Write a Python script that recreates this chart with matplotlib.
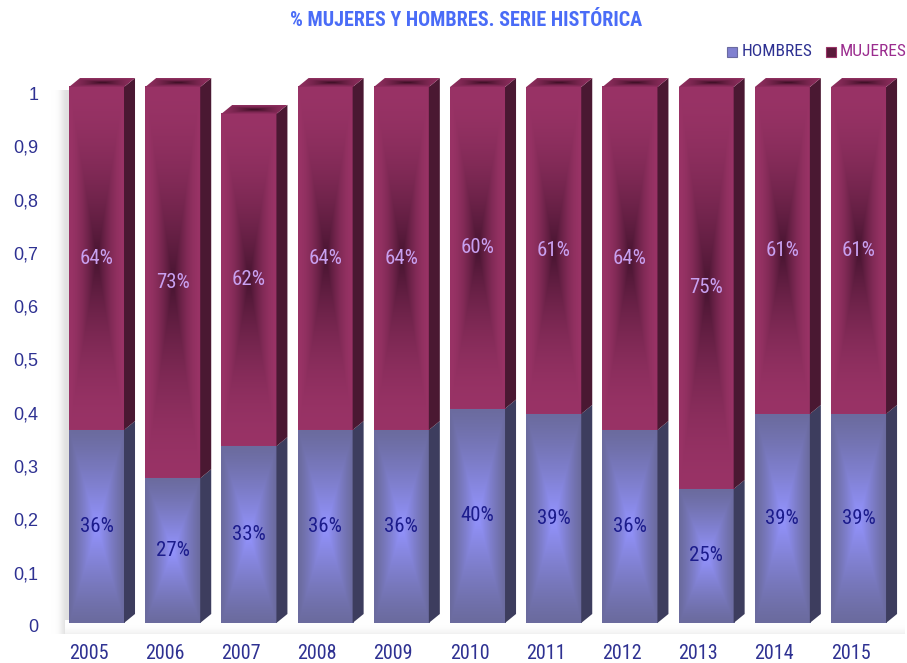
import numpy as np
import matplotlib
matplotlib.use("Agg")
import matplotlib.pyplot as plt
from matplotlib import font_manager
from matplotlib.patches import Polygon, Rectangle

years = ["2005", "2006", "2007", "2008", "2009", "2010", "2011", "2012", "2013", "2014", "2015"]
hombres = [0.36, 0.27, 0.33, 0.36, 0.36, 0.40, 0.39, 0.36, 0.25, 0.39, 0.39]
mujeres = [0.64, 0.73, 0.62, 0.64, 0.64, 0.60, 0.61, 0.64, 0.75, 0.61, 0.61]
hombres_lbl = ["36%", "27%", "33%", "36%", "36%", "40%", "39%", "36%", "25%", "39%", "39%"]
mujeres_lbl = ["64%", "73%", "62%", "64%", "64%", "60%", "61%", "64%", "75%", "61%", "61%"]
yticks = [0, 0.1, 0.2, 0.3, 0.4, 0.5, 0.6, 0.7, 0.8, 0.9, 1.0]
ytick_lbl = ["0", "0,1", "0,2", "0,3", "0,4", "0,5", "0,6", "0,7", "0,8", "0,9", "1"]

names = {f.name for f in font_manager.fontManager.ttflist}
NARROW = "DejaVu Sans"
for cand in ["Liberation Sans Narrow", "Roboto Condensed", "Open Sans Condensed", "Roboto"]:
    if cand in names:
        NARROW = cand
        break
CONDENSED = NARROW in ("Liberation Sans Narrow", "Roboto Condensed", "Open Sans Condensed")
REG = "Liberation Sans" if "Liberation Sans" in names else "DejaVu Sans"

W, H = 907, 663
fig = plt.figure(figsize=(W / 100, H / 100), dpi=100)
ax = fig.add_axes([0.056, 0.0442, 0.941, 0.9054])
ax.set_xlim(-0.6, 10.6)
ax.set_ylim(-0.02, 1.1)
ax.axis("off")

px_x = 76.2   # pixels per category unit
px_y = 536.0  # pixels per value unit
bw = 55 / px_x
dx = 11 / px_x
dy = 9 / px_y


def pix2y(p):
    return (623 - p) / px_y


def grad_img(nx, ny, center, edge, p):
    u = np.linspace(-1, 1, nx)
    v = np.linspace(-1, 1, ny)
    U, V = np.meshgrid(u, v)
    t = np.maximum(np.abs(U), np.abs(V))
    w = (1 - t) ** p
    c = np.array(center)
    e = np.array(edge)
    return e + (c - e) * w[..., None]


# background: soft left wall and floor shading
wall = np.linspace(0, 1, 80)
prof = np.exp(-((wall - 0.75) / 0.25) ** 2)
wimg = np.ones((2, 80, 3)) * (1 - 0.12 * prof[None, :, None])
ax.imshow(wimg, extent=[-0.6 - 4 / px_x, -0.6 + 22 / px_x, pix2y(634), pix2y(90)],
          aspect="auto", zorder=0, interpolation="bilinear")
fl = np.linspace(0, 1, 40)
fprof = np.exp(-((fl - 0.7) / 0.3) ** 2)
fimg = np.ones((40, 2, 3)) * (1 - 0.07 * fprof[:, None, None])
ax.imshow(fimg, extent=[-0.6 + 14 / px_x, 10.6, pix2y(645), pix2y(620)],
          aspect="auto", zorder=0, interpolation="bilinear")

H_edge = (0.42, 0.42, 0.62)
H_center = (0.58, 0.58, 1.0)
M_edge = (0.60, 0.20, 0.40)
M_center = (0.28, 0.08, 0.19)
H_side = "#3d3d5e"
M_side = "#4a1832"
T_edge = (0.56, 0.18, 0.37)
T_center = (0.22, 0.05, 0.13)

fs_lbl = 15 if CONDENSED else 13.5
fs_year = 14.5 if CONDENSED else 13.5

for i in range(len(years)):
    xl = i - bw / 2
    xr = i + bw / 2
    segs = [(0, hombres[i], H_center, H_edge, 1.2, H_side),
            (hombres[i], hombres[i] + mujeres[i], M_center, M_edge, 1.7, M_side)]
    for (y0, y1, cc, ce, pw, side) in segs:
        ny = max(int((y1 - y0) * px_y), 4)
        img = grad_img(56, ny, cc, ce, pw)
        ax.imshow(img, extent=[xl, xr, y0, y1], aspect="auto", zorder=2,
                  interpolation="bilinear")
        ax.add_patch(Polygon([(xr, y0), (xr + dx, y0 + dy), (xr + dx, y1 + dy), (xr, y1)],
                             closed=True, facecolor=side, edgecolor="none", zorder=2))
    top = hombres[i] + mujeres[i]
    tp = Polygon([(xl, top), (xl + dx, top + dy), (xr + dx, top + dy), (xr, top)],
                 closed=True, facecolor="none", edgecolor="none", zorder=3)
    ax.add_patch(tp)
    timg = grad_img(60, 12, T_center, T_edge, 1.5)
    im = ax.imshow(timg, extent=[xl, xr + dx, top, top + dy], aspect="auto", zorder=3,
                   interpolation="bilinear")
    im.set_clip_path(tp)
    # labels
    ax.text(i, hombres[i] / 2, hombres_lbl[i], ha="center", va="center",
            fontsize=fs_lbl, color="#1c1c8c", family=NARROW, fontweight="normal", zorder=5)
    ax.text(i, hombres[i] + mujeres[i] / 2, mujeres_lbl[i], ha="center", va="center",
            fontsize=fs_lbl, color="#c8a0f0", family=NARROW, fontweight="normal", zorder=5)
    ax.text(i - 8 / px_x, pix2y(659), years[i], ha="center", va="baseline",
            fontsize=fs_year, color="#2e3192", family=NARROW, fontweight="normal")

# y tick labels
for v, lab in zip(yticks, ytick_lbl):
    ax.text(-0.6 - 12.5 / px_x, pix2y(628 - 533 * v), lab, ha="right", va="center",
            fontsize=13, color="#2e3192", family=REG)

# title
fig.text(466 / W, 1 - 21 / H, "% MUJERES Y HOMBRES. SERIE HISTÓRICA", ha="center",
         va="center", fontsize=14.5 if CONDENSED else 12.5, fontweight="bold",
         color="#4a6cf7", family=NARROW)

# legend
fig.patches.append(Rectangle((727 / W, 1 - 57 / H), 10 / W, 10 / H, transform=fig.transFigure,
                             facecolor="#8080d0", edgecolor="#6a6aa0", lw=0.8))
fig.text(742 / W, 1 - 52 / H, "HOMBRES", ha="left", va="center", fontsize=12.5,
         color="#2e3192", family=NARROW, fontweight="normal")
fig.patches.append(Rectangle((826 / W, 1 - 57 / H), 10 / W, 10 / H, transform=fig.transFigure,
                             facecolor="#5a1a3a", edgecolor="#993366", lw=0.8))
fig.text(840 / W, 1 - 52 / H, "MUJERES", ha="left", va="center", fontsize=12.5,
         color="#9b2d8f", family=NARROW, fontweight="normal")

fig.savefig("out.png", dpi=100)
